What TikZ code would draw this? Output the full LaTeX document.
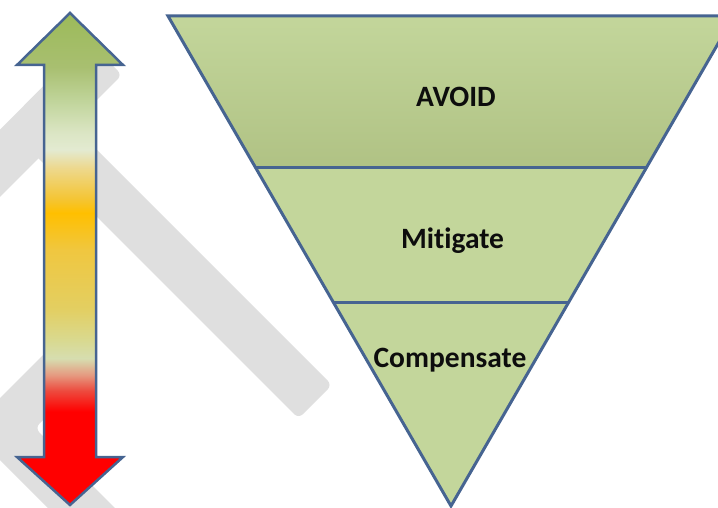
\documentclass[tikz,border=0pt]{standalone}
\usepackage{fontspec}
\setmainfont{Carlito}[Ligatures=NoCommon]
\usetikzlibrary{calc}
\definecolor{edgeblue}{RGB}{70,100,145}
\definecolor{layergreen}{RGB}{195,214,155}
\definecolor{layerdark}{RGB}{176,194,132}
\definecolor{markgray}{RGB}{223,223,223}
\pgfdeclareverticalshading{riskscale}{100bp}{rgb(0bp)=(1,0,0); rgb(34.5bp)=(1,0,0);
  rgb(36.6bp)=(0.93,0.29,0.24); rgb(38.2bp)=(0.90,0.60,0.50); rgb(39.9bp)=(0.84,0.87,0.69);
  rgb(41.8bp)=(0.85,0.85,0.56); rgb(45bp)=(0.89,0.81,0.38); rgb(50.9bp)=(0.94,0.78,0.25);
  rgb(54.7bp)=(1,0.75,0); rgb(56bp)=(0.96,0.77,0.19); rgb(59.3bp)=(0.93,0.85,0.56);
  rgb(61.1bp)=(0.89,0.92,0.82); rgb(62.8bp)=(0.86,0.90,0.77); rgb(66.2bp)=(0.75,0.83,0.60);
  rgb(69.5bp)=(0.66,0.75,0.44); rgb(75bp)=(0.61,0.73,0.35); rgb(100bp)=(0.61,0.73,0.35)}
\tikzstyle{outline}=[draw=edgeblue, line width=3pt, line join=miter]
\tikzstyle{markband}=[fill=markgray, rounded corners=6pt]
\tikzstyle{layer}=[font=\bfseries\fontsize{29.5}{31}\selectfont, anchor=base, text=black!95, inner sep=0pt]
\newcommand{\drawmarks}[0]
{
  \begin{scope}
    \clip (0,0) rectangle (718,508);
    \fill[markband] (88,41) -- (122,75) -- (-40,237) -- (-40,170) -- cycle;
    \fill[markband] (60,113) -- (26.5,146.5) -- (298.5,418.5) -- (332,385) -- cycle;
    \fill[markband] (55,343) -- (87.5,375.5) -- (35,428) -- (150,543) -- (83,543) -- (-31,429) -- cycle;
  \end{scope}
}

\begin{document}
\begin{tikzpicture}[x=1pt, y=-1pt]
	\useasboundingbox (0,0) rectangle (718,508);
	\drawmarks{}

	% scale arrow
	\path[outline, line width=2.5pt, shading=riskscale]
		(70,13) -- (123,65) -- (96,65) -- (96,457) -- (123,457) -- (70,505)
		-- (17,457) -- (44,457) -- (44,65) -- (17,65) -- cycle;

	% hierarchy
	\coordinate (tl) at (168,16);
	\coordinate (tr) at (734,16);
	\coordinate (apex) at (451,506);
	\coordinate (l1) at ($(tl)!0.3102!(apex)$);
	\coordinate (r1) at ($(tr)!0.3102!(apex)$);
	\coordinate (l2) at ($(tl)!0.5837!(apex)$);
	\coordinate (r2) at ($(tr)!0.5837!(apex)$);

	\fill[layergreen] (tl) -- (tr) -- (apex) -- cycle;
	\fill[top color=layergreen, bottom color=layerdark] (tl) -- (tr) -- (r1) -- (l1) -- cycle;
	\draw[outline] (l1) -- (r1);
	\draw[outline] (l2) -- (r2);
	\draw[outline] (tl) -- (tr) -- (apex) -- cycle;

	\node[layer] (avoid) at (456,107) {AVOID};
	\node[layer] (mitigate) at (452.5,248) {Mitigate};
	\node[layer] (compensate) at (450,367) {Compensate};
\end{tikzpicture}
\end{document}
